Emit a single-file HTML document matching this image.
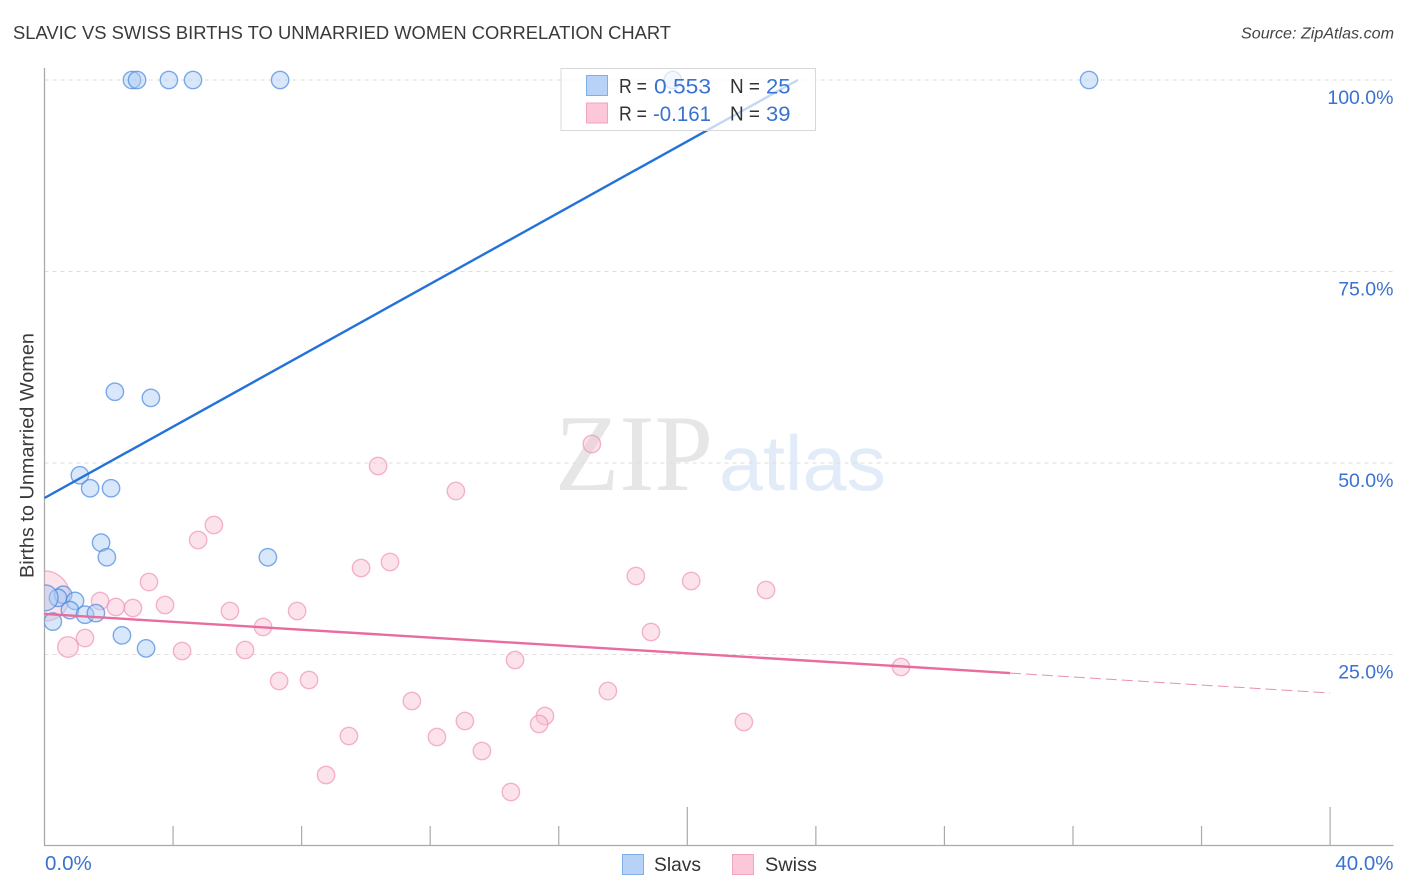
<!DOCTYPE html>
<html lang="en">
<head>
<meta charset="utf-8">
<title>Slavic vs Swiss Births to Unmarried Women Correlation Chart</title>
<style>
html,body{margin:0;padding:0;background:#fff;}
body{width:1406px;height:892px;overflow:hidden;font-family:"Liberation Sans",sans-serif;}
svg{display:block;}
text{font-family:"Liberation Sans",sans-serif;}
</style>
</head>
<body>
<svg id="chart" width="1406" height="892" viewBox="0 0 1406 892" xmlns="http://www.w3.org/2000/svg">
  <defs>
    <clipPath id="plot-clip"><rect x="44.5" y="60" width="1350" height="786"/></clipPath>
  </defs>
  <text x="13" y="39" font-size="18.5" fill="#3a3a3a" textLength="658" lengthAdjust="spacingAndGlyphs">SLAVIC VS SWISS BIRTHS TO UNMARRIED WOMEN CORRELATION CHART</text>
  <text x="1241" y="38.5" font-size="16" font-style="italic" fill="#444" textLength="153" lengthAdjust="spacingAndGlyphs">Source: ZipAtlas.com</text>

  <g id="watermark">
    <text x="555" y="490" font-size="109" fill="#e6e6e6" style="font-family:'Liberation Serif',serif" textLength="158" lengthAdjust="spacingAndGlyphs">ZIP</text>
    <text x="719" y="490" font-size="78" fill="#e2ecf9" textLength="167" lengthAdjust="spacingAndGlyphs">atlas</text>
  </g>

  <g id="grid"></g>
  <g id="axes"></g>
  <g id="points" clip-path="url(#plot-clip)"></g>
  <g id="trends"></g>

  <text transform="translate(33.5,578) rotate(-90)" font-size="19" fill="#3a3a3a" textLength="245" lengthAdjust="spacingAndGlyphs">Births to Unmarried Women</text>

  <g id="top-legend">
    <rect x="561" y="68.5" width="254.5" height="62" fill="#fff" fill-opacity="0.72" stroke="#d8d8d8" stroke-width="1"/>
    <rect x="586.5" y="75.5" width="21" height="20" fill="#b7d2f6" stroke="#7fafe8" stroke-width="1"/>
    <rect x="586.5" y="103" width="21" height="20" fill="#fcc7d8" stroke="#f2a3bf" stroke-width="1"/>
    <text x="619" y="93" font-size="20" fill="#333" textLength="28" lengthAdjust="spacingAndGlyphs">R =</text>
    <text x="654" y="93.5" font-size="21.5" fill="#3a72d0" textLength="57" lengthAdjust="spacingAndGlyphs">0.553</text>
    <text x="730" y="93" font-size="20" fill="#333" textLength="30" lengthAdjust="spacingAndGlyphs">N =</text>
    <text x="766" y="93.5" font-size="21.5" fill="#3a72d0" textLength="24.5" lengthAdjust="spacingAndGlyphs">25</text>
    <text x="619" y="120.5" font-size="20" fill="#333" textLength="28" lengthAdjust="spacingAndGlyphs">R =</text>
    <text x="653" y="121" font-size="21.5" fill="#3a72d0" textLength="58" lengthAdjust="spacingAndGlyphs">-0.161</text>
    <text x="730" y="120.5" font-size="20" fill="#333" textLength="30" lengthAdjust="spacingAndGlyphs">N =</text>
    <text x="766" y="121" font-size="21.5" fill="#3a72d0" textLength="24.5" lengthAdjust="spacingAndGlyphs">39</text>
  </g>

  <g id="bottom-legend">
    <rect x="622.5" y="854.5" width="21" height="20" fill="#b7d2f6" stroke="#7fafe8" stroke-width="1"/>
    <text x="654" y="871" font-size="19.5" fill="#333" textLength="47" lengthAdjust="spacingAndGlyphs">Slavs</text>
    <rect x="732.5" y="854.5" width="21" height="20" fill="#fcc7d8" stroke="#f2a3bf" stroke-width="1"/>
    <text x="765" y="871" font-size="19.5" fill="#333" textLength="52" lengthAdjust="spacingAndGlyphs">Swiss</text>
  </g>
</svg>
<script>
var slavsX = [2.72,2.88,3.87,4.62,7.33,32.5,19.55,2.19,3.31,1.10,1.42,2.07,1.76,1.94,6.95,0.26,0.58,0.42,0.95,0.79,1.26,1.60,2.41,3.16,0.02];
var slavsY = [100,100,100,100,100,100,100,59.3,58.5,48.4,46.7,46.7,39.6,37.7,37.7,29.3,32.8,32.4,32.0,30.8,30.2,30.4,27.5,25.8,32.4];
var slavsWeight = [1,1,1,1,1,1,1,1,1,1,1,1,1,1,1,1,1,1,1,1,1,1,1,1,2.2];
var swissX = [17.03,10.38,12.80,5.27,4.78,3.25,9.85,10.75,18.40,20.12,22.45,3.75,5.77,7.86,2.75,2.22,1.73,6.80,18.87,1.26,0.73,4.28,6.24,14.64,26.65,7.30,8.23,17.53,11.43,15.57,15.39,13.08,21.76,12.21,9.47,13.61,8.76,14.51,0];
var swissY = [52.48,49.61,46.34,41.91,39.95,34.46,36.29,37.08,35.25,34.6,33.42,31.46,30.68,30.68,31.07,31.2,31.98,28.59,27.94,27.15,25.98,25.46,25.59,24.28,23.37,21.54,21.67,20.23,18.93,16.97,15.93,16.32,16.19,14.23,14.36,12.4,9.27,7.05,32.64];
var swissWeight = [1,1,1,1,1,1,1,1,1,1,1,1,1,1,1,1,1,1,1,1,1.4,1,1,1,1,1,1,1,1,1,1,1,1,1,1,1,1,1,8.3];
var slavsTrendX = [0,23.44];
var slavsTrendY = [45.43,100];
var swissTrendX = [0,30.04];
var swissTrendY = [30.29,22.58];
var swissTrendDashX = [30.04,40];
var swissTrendDashY = [22.58,19.97];
var yTicks = [100,75,50,25];
var yTickLabels = ['100.0%','75.0%','50.0%','25.0%'];
var xTicks = [0,4,8,12,16,20,24,28,32,36,40];
var xMajorTicks = [20,40];
var xEndLabels = ['0.0%','40.0%'];

var NS = 'http://www.w3.org/2000/svg';
function xScale(v){ return 44.5 + v * 32.14; }
function yScale(v){ return 80 + (100 - v) * 7.66; }
function radius(w){ return 8.7 * Math.sqrt(w); }
function make(tag, parent, attrs){
  var el = document.createElementNS(NS, tag);
  for (var k in attrs) el.setAttribute(k, attrs[k]);
  parent.appendChild(el);
  return el;
}
var grid = document.getElementById('grid');
var axes = document.getElementById('axes');
var points = document.getElementById('points');
var trends = document.getElementById('trends');

yTicks.forEach(function(v, i){
  var line = make('line', grid, {x1:44.5, x2:1393, y1:yScale(v), y2:yScale(v), stroke:'#dedede', 'stroke-width':1, 'stroke-dasharray':'4 4'});
  
  
  var label = make('text', axes, {x:1393.5, y:yScale(v) + 24, 'font-size':19.5, fill:'#3a72d0', 'text-anchor':'end'});
  label.textContent = yTickLabels[i];
  
  
});

var yAxis = make('line', axes, {x1:44.5, x2:44.5, y1:68, y2:846, stroke:'#aaa', 'stroke-width':1.3});


var xAxis = make('line', axes, {x1:44, x2:1393.5, y1:845.5, y2:845.5, stroke:'#aaa', 'stroke-width':1.3});



xTicks.forEach(function(v){
  if (v === 0) return;
  var top = xMajorTicks.indexOf(v) >= 0 ? 807 : 826;
  var tick = make('line', axes, {x1:xScale(v), x2:xScale(v), y1:top, y2:845.5, stroke:'#aaa', 'stroke-width':1.2});
  
  
});

var xLabelLeft = make('text', axes, {x:45, y:870, 'font-size':20.5, fill:'#3a72d0'});
xLabelLeft.textContent = xEndLabels[0];


var xLabelRight = make('text', axes, {x:1393.5, y:870, 'font-size':20.5, fill:'#3a72d0', 'text-anchor':'end'});
xLabelRight.textContent = xEndLabels[1];



swissX.forEach(function(v, i){
  var c = make('circle', points, {cx:xScale(v), cy:yScale(swissY[i]), r:radius(swissWeight[i]), fill:'#f9bed2', 'fill-opacity':0.45, stroke:'#ee8fb2', 'stroke-opacity':0.65, 'stroke-width':1.4});
  
  
});
slavsX.forEach(function(v, i){
  var c = make('circle', points, {cx:xScale(v), cy:yScale(slavsY[i]), r:radius(slavsWeight[i]), fill:'#a9c9f5', 'fill-opacity':0.45, stroke:'#4a88e0', 'stroke-opacity':0.7, 'stroke-width':1.4});
  
  
});

var slavsLine = make('line', trends, {x1:xScale(slavsTrendX[0]), y1:yScale(slavsTrendY[0]), x2:xScale(slavsTrendX[1]), y2:yScale(slavsTrendY[1]), stroke:'#2272d9', 'stroke-width':2.4});


var swissLine = make('line', trends, {x1:xScale(swissTrendX[0]), y1:yScale(swissTrendY[0]), x2:xScale(swissTrendX[1]), y2:yScale(swissTrendY[1]), stroke:'#e86c9e', 'stroke-width':2.4});


var swissDash = make('line', trends, {x1:xScale(swissTrendDashX[0]), y1:yScale(swissTrendDashY[0]), x2:xScale(swissTrendDashX[1]), y2:yScale(swissTrendDashY[1]), stroke:'#e88fb0', 'stroke-width':1, 'stroke-dasharray':'11 5'});


</script>
</body>
</html>
